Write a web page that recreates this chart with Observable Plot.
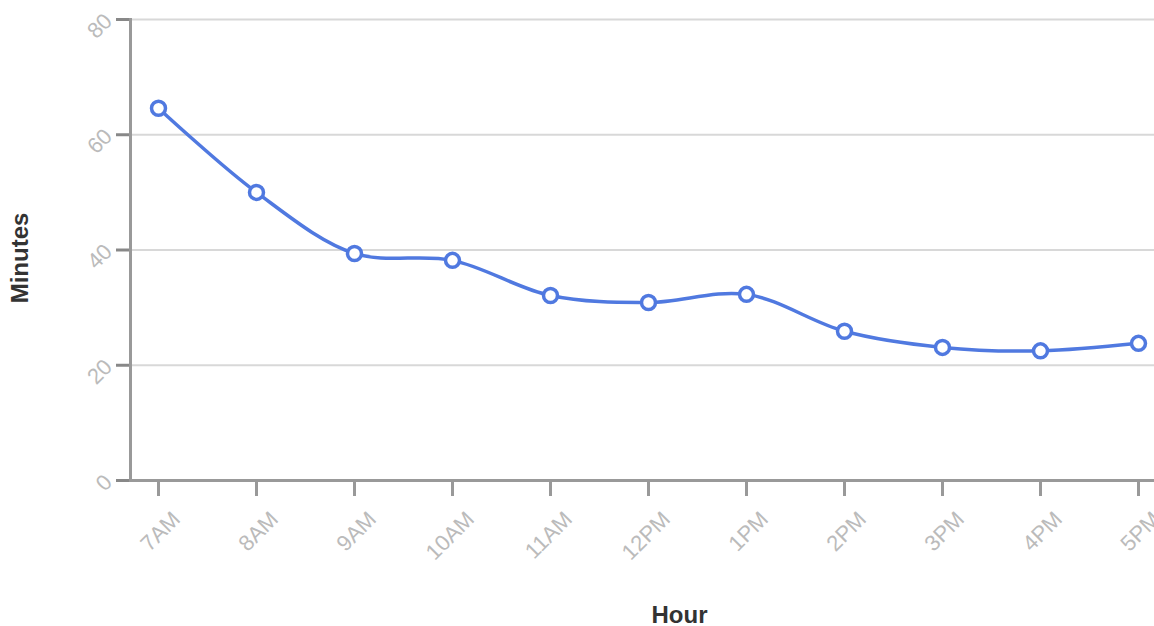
<!DOCTYPE html>
<html><head><meta charset="utf-8">
<script src="https://cdn.jsdelivr.net/npm/d3@7"></script>
<script src="https://cdn.jsdelivr.net/npm/@observablehq/plot@0.6"></script>
<style>body{margin:0;background:#fff;font-family:"Liberation Sans",Arial,sans-serif;}</style>
</head><body><div id="chart"></div>
<script>
const hours = ["7AM","8AM","9AM","10AM","11AM","12PM","1PM","2PM","3PM","4PM","5PM"];
const minutes = [64.6, 50.0, 39.4, 38.2, 32.1, 30.9, 32.3, 25.9, 23.1, 22.5, 23.8];
const yTicks = [0, 20, 40, 60, 80];
const data = hours.map((h, i) => ({hour: h, minutes: minutes[i]}));
const blue = "#5079e0";
const chart = Plot.plot({
  width: 1154, height: 626,
  marginLeft: 130, marginRight: 0, marginTop: 19, marginBottom: 146,
  style: {fontFamily: "'Liberation Sans', Arial, sans-serif", fontSize: "16px", background: "#fff"},
  x: {type: "point", domain: hours, range: [157, 1138], padding: 0},
  y: {domain: [0, 80]},
  marks: [
    Plot.gridY(yTicks, {stroke: "#d8d8d8", strokeOpacity: 1, strokeWidth: 2}),
    Plot.axisY(yTicks, {tickSize: 14, tickFormat: () => "", stroke: "#888", strokeWidth: 3, label: null}),
    Plot.axisY(yTicks, {tickSize: 0, tickPadding: 22, tickRotate: -45, fill: "#bbb", fontSize: 22, label: null, tickFormat: d => d, dy: -2}),
    Plot.axisX({tickSize: 16, tickFormat: () => "", stroke: "#999", strokeWidth: 3, label: null}),
    Plot.axisX({tickSize: 0, tickPadding: 35, tickRotate: -45, fill: "#bbb", fontSize: 22, label: null, dx: 18}),
    Plot.ruleY([0], {stroke: "#999", strokeWidth: 3}),
    Plot.frame({anchor: "left", stroke: "#999", strokeWidth: 3}),
    Plot.line(data, {x: "hour", y: "minutes", stroke: blue, strokeWidth: 3.5, curve: "catmull-rom"}),
    Plot.dot(data, {x: "hour", y: "minutes", r: 7, fill: "#fff", stroke: blue, strokeWidth: 3.5}),
    Plot.text(["Minutes"], {frameAnchor: "left", textAnchor: "middle", dx: -110, dy: 8, rotate: -90, fontSize: 24, fontWeight: "bold", fill: "#333"}),
    Plot.text(["Hour"], {frameAnchor: "bottom", textAnchor: "middle", dy: 142, dx: 37, fontSize: 24, fontWeight: "bold", fill: "#333"})
  ]
});
document.getElementById("chart").appendChild(chart);
</script></body></html>
